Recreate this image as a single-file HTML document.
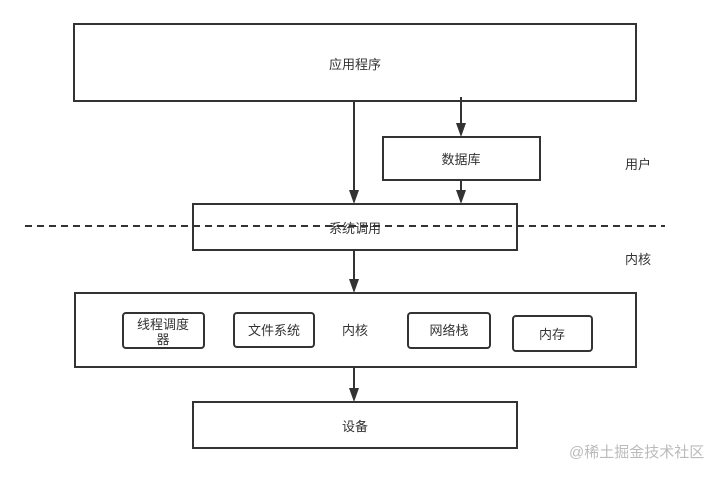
<!DOCTYPE html>
<html><head><meta charset="utf-8"><style>
body{margin:0;background:#fff;width:724px;height:473px;overflow:hidden}
svg text{font-family:"Liberation Sans","Noto Sans CJK SC",sans-serif;font-size:13px;fill:#333}
</style></head><body>
<svg width="724" height="473" xmlns="http://www.w3.org/2000/svg">
<g fill="none" stroke="#333" stroke-width="2">
<rect x="74" y="24" width="562" height="77"/>
<rect x="383" y="137" width="157" height="43"/>
<rect x="193" y="204" width="324" height="46"/>
<rect x="75" y="293" width="561" height="74"/>
<rect x="193" y="402" width="324" height="46"/>
<rect x="123" y="313" width="81" height="35" rx="3"/>
<rect x="234" y="313" width="80" height="34" rx="3"/>
<rect x="408" y="313" width="82" height="35" rx="3"/>
<rect x="513" y="316" width="79" height="35" rx="3"/>
<line x1="25" y1="226" x2="665" y2="226" stroke-dasharray="7,5"/>
<line x1="354" y1="101" x2="354" y2="191"/>
<line x1="461" y1="97" x2="461" y2="124"/>
<line x1="461" y1="180" x2="461" y2="191"/>
<line x1="354" y1="250" x2="354" y2="280"/>
<line x1="354" y1="367" x2="354" y2="389"/>
</g>
<g fill="#333">
<path d="M349,190 L359,190 L354,204 z"/>
<path d="M456,123 L466,123 L461,137 z"/>
<path d="M456,190 L466,190 L461,204 z"/>
<path d="M349,279 L359,279 L354,293 z"/>
<path d="M349,388 L359,388 L354,402 z"/>
</g>
<g text-anchor="middle">
<text x="355" y="69">应用程序</text>
<text x="461" y="164">数据库</text>
<text x="355" y="233">系统调用</text>
<text x="163" y="329">线程调度</text>
<text x="163" y="344">器</text>
<text x="274" y="335">文件系统</text>
<text x="355" y="335">内核</text>
<text x="449" y="335">网络栈</text>
<text x="552" y="339">内存</text>
<text x="355" y="431">设备</text>
<text x="638" y="169">用户</text>
<text x="638" y="264">内核</text>
</g>
<text x="569" y="457" style="font-size:15px;fill:#bbb">@稀土掘金技术社区</text>
</svg>
</body></html>
